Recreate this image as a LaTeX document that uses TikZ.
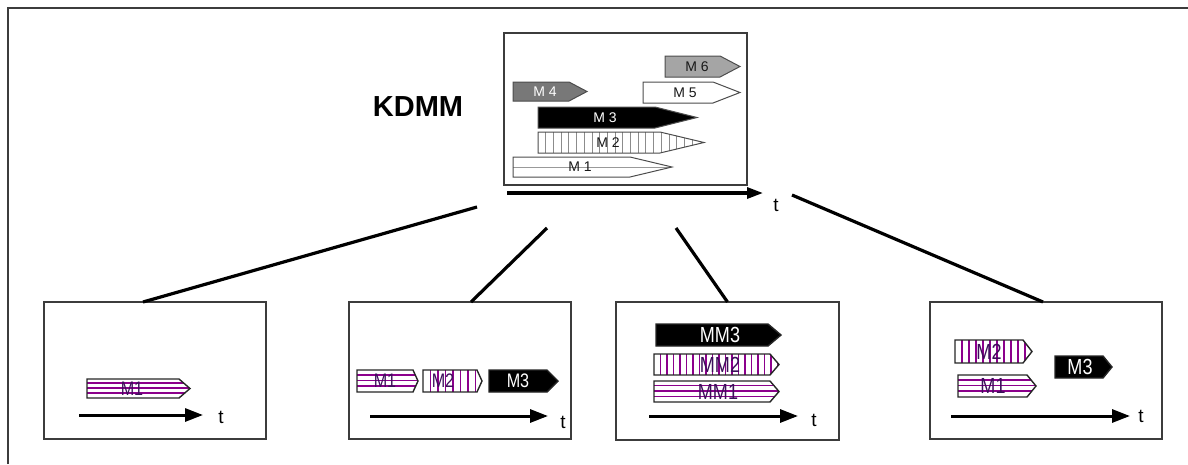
\documentclass[tikz,border=0pt]{standalone}
\usepackage{fontspec}
\setmainfont{Liberation Sans}
\usetikzlibrary{arrows.meta,calc}

\definecolor{stripe}{RGB}{140,0,140}
\definecolor{lbltext}{RGB}{60,15,90}
\definecolor{framegray}{RGB}{60,60,60}
\definecolor{midgray}{RGB}{120,120,120}
\definecolor{lightgray}{RGB}{165,165,165}

% pentagon "tag": style, left x, top y, right x of body, bottom y, tip x
\newcommand{\tagshape}[6]{%
  \path[#1] (#2,#3) -- (#4,#3) -- (#6,{(#3+#5)/2}) -- (#4,#5) -- (#2,#5) -- cycle;}
% slightly tall lettering used inside the lower tags
\newcommand{\tall}[1]{\scalebox{0.95}[1.15]{#1}}

\tikzset{
  panel/.style={draw=framegray, line width=1.8pt, inner sep=0pt, outer sep=0pt,
    anchor=north west, rectangle},
  conn/.style={line width=3.2pt, black},
  axis/.style={line width=3pt, black, -{Triangle[length=18pt,width=13pt]}},
  topaxis/.style={line width=3.2pt, black, -{Triangle[length=16pt,width=11pt]}},
  tlabel/.style={font=\fontsize{19}{19}\selectfont, inner sep=0pt},
  tag/.style={draw=black!85, line width=1.4pt},
  toptag/.style={draw=black!70, line width=1pt},
  hstripes/.style={fill=white, path picture={
      \foreach \f in {0.22,0.48,0.74}{
        \draw[stripe, line width=1.6pt]
          ($(path picture bounding box.north west)!\f!(path picture bounding box.south west)$)
          -- ++(300,0);}}},
  vstripes/.style={fill=white, path picture={
      \foreach \i in {1,...,30}{
        \draw[stripe, line width=1.6pt]
          ([xshift=\i*#1 pt]path picture bounding box.north west)
          -- ([xshift=\i*#1 pt]path picture bounding box.south west);}}},
  grayvstripes/.style={fill=white, path picture={
      \foreach \i in {1,...,20}{
        \draw[black!45, line width=0.8pt]
          ([xshift=\i*7.7pt]path picture bounding box.north west)
          -- ([xshift=\i*7.7pt]path picture bounding box.south west);}}},
  midline/.style={fill=white, path picture={
      \draw[black!40, line width=0.9pt]
        (path picture bounding box.west) -- (path picture bounding box.east);}},
  toplbl/.style={font=\fontsize{14}{14}\selectfont, inner sep=0pt, text=black!90},
  stlbl/.style={font=\fontsize{#1}{#1}\selectfont, inner sep=0pt, text=lbltext},
  blklbl/.style={font=\fontsize{#1}{#1}\selectfont, inner sep=0pt, text=white},
}

\begin{document}
\begin{tikzpicture}[x=1pt, y=-1pt]
  \useasboundingbox (0,0) rectangle (1188,464);

  % outer frame (only top and left edges fall inside the page)
  \draw[framegray, line width=2.4pt] (8,464) -- (8,8) -- (1188,8);

  % ---------- upper panel: KDMM ----------
  \node[panel, minimum width=243pt, minimum height=152pt] (kd) at (504,33) {};
  \node[font=\fontsize{29}{29}\selectfont\bfseries, inner sep=0pt] (kdmm) at (418,107) {KDMM};

  \tagshape{toptag, fill=lightgray}{665}{56}{720}{77}{740}
  \node[toplbl] (m6) at (697,66.5) {M 6};
  \tagshape{toptag, fill=white}{643}{82}{713}{103}{740}
  \node[toplbl] (m5) at (685,92.5) {M 5};
  \tagshape{toptag, fill=midgray}{513}{82}{569}{101}{587}
  \node[toplbl, text=white] (m4) at (545,91.5) {M 4};
  \tagshape{toptag, fill=black}{538}{107}{655}{128}{697}
  \node[toplbl, text=white] (m3) at (605,117.5) {M 3};
  \tagshape{toptag, grayvstripes}{538}{132}{660}{153}{704}
  \node[toplbl] (m2) at (608,142.5) {M 2};
  \tagshape{toptag, midline}{513}{157}{630}{177}{672}
  \node[toplbl] (m1) at (580,167) {M 1};

  \coordinate (ta0) at (507,193);
  \coordinate (ta1) at (763,193);
  \draw[topaxis] (ta0) -- (ta1);
  \node[tlabel] (tt) at (776,205) {t};

  % ---------- lower panels ----------
  \node[panel, minimum width=222pt, minimum height=137pt] (b1) at (44,302) {};
  \node[panel, minimum width=222pt, minimum height=137pt] (b2) at (349,302) {};
  \node[panel, minimum width=223pt, minimum height=138pt] (b3) at (616,302) {};
  \node[panel, minimum width=232pt, minimum height=137pt] (b4) at (930,302) {};

  % connectors from the KDMM panel to the four lower panels
  \coordinate (c1) at (477,207);
  \coordinate (c2) at (547,228);
  \coordinate (c3) at (676,228);
  \coordinate (c4) at (792,195);
  \draw[conn] (c1) -- ([xshift=-12pt]b1.north);
  \draw[conn] (c2) -- ([xshift=11pt]b2.north);
  \draw[conn] (c3) -- (b3.north);
  \draw[conn] (c4) -- ([xshift=-3pt]b4.north);

  % panel 1
  \tagshape{tag, hstripes}{87}{379}{179}{398}{190}
  \node[stlbl=17] (p1m1) at (132,389) {\tall{M1}};
  \coordinate (a1s) at (79,415);
  \coordinate (a1e) at (203,415);
  \draw[axis] (a1s) -- (a1e);
  \node[tlabel] (t1) at (221,417) {t};

  % panel 2
  \tagshape{tag, hstripes}{357}{370}{413}{392}{418}
  \node[stlbl=17] (p2m1) at (385,381) {\tall{M1}};
  \tagshape{tag, vstripes=7.5}{423}{370}{477}{392}{482}
  \node[stlbl=17] (p2m2) at (443,381) {\tall{M2}};
  \tagshape{tag, fill=black}{489}{370}{547}{392}{558}
  \node[blklbl=17] (p2m3) at (518,381) {\tall{M3}};
  \coordinate (a2s) at (370,416);
  \coordinate (a2e) at (548,416);
  \draw[axis] (a2s) -- (a2e);
  \node[tlabel] (t2) at (563,422) {t};

  % panel 3
  \tagshape{tag, fill=black}{656}{324}{768}{346}{781}
  \node[blklbl=19] (p3m3) at (720,335) {\tall{MM3}};
  \tagshape{tag, vstripes=6.5}{654}{354}{770}{375}{779}
  \node[stlbl=19] (p3m2) at (720,364.5) {\tall{MM2}};
  \tagshape{tag, hstripes}{654}{381}{770}{402}{779}
  \node[stlbl=19] (p3m1) at (718,391.5) {\tall{MM1}};
  \coordinate (a3s) at (649,416);
  \coordinate (a3e) at (798,416);
  \draw[axis] (a3s) -- (a3e);
  \node[tlabel] (t3) at (814,420) {t};

  % panel 4
  \tagshape{tag, vstripes=7}{955}{340}{1023}{363}{1032}
  \node[stlbl=19] (p4m2) at (989,351.5) {\tall{M2}};
  \tagshape{tag, hstripes}{958}{375}{1027}{397}{1036}
  \node[stlbl=19] (p4m1) at (993,386) {\tall{M1}};
  \tagshape{tag, fill=black}{1055}{356}{1103}{378}{1112}
  \node[blklbl=19] (p4m3) at (1080,367) {\tall{M3}};
  \coordinate (a4s) at (951,416);
  \coordinate (a4e) at (1130,416);
  \draw[axis] (a4s) -- (a4e);
  \node[tlabel] (t4) at (1141,416) {t};
\end{tikzpicture}
\end{document}
